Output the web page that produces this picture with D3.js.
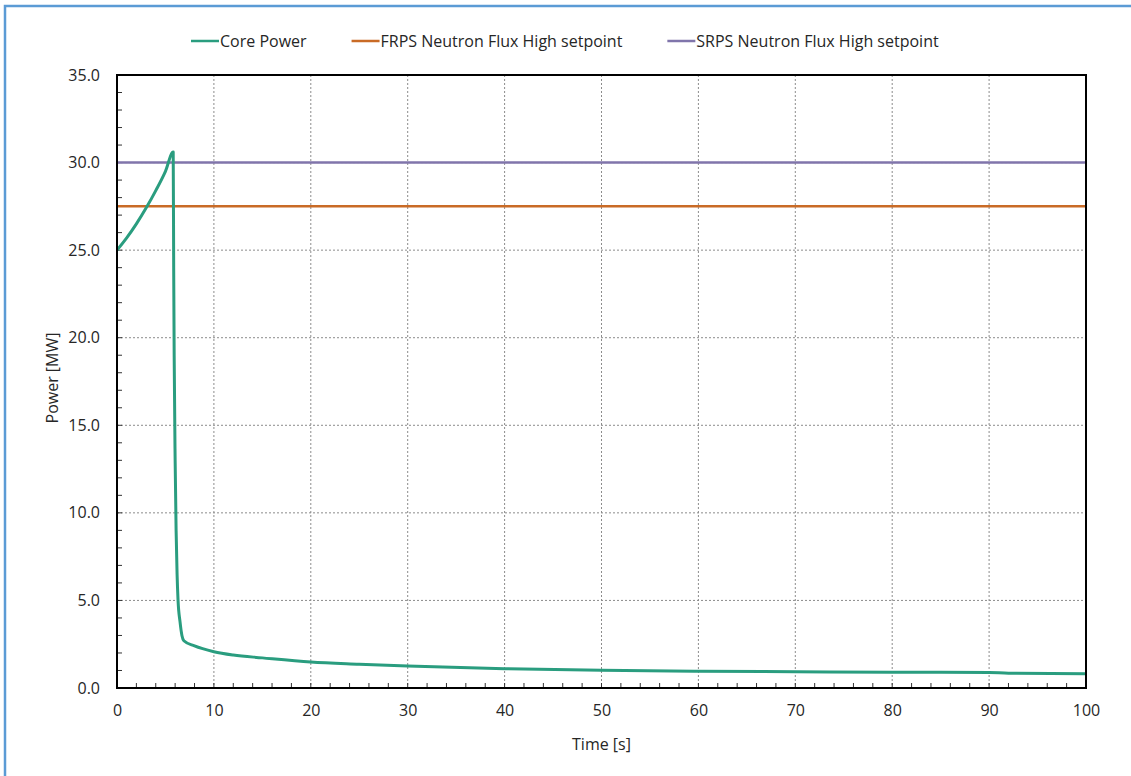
<!DOCTYPE html>
<html><head><meta charset="utf-8">
<script src="https://cdn.jsdelivr.net/npm/d3@7"></script>
<style>body{margin:0;background:#fff}svg{display:block;font-family:"Open Sans","Liberation Sans",sans-serif}</style>
</head><body><svg id="c" width="1131" height="776"></svg>
<script>
const seriesNames = ["Core Power", "FRPS Neutron Flux High setpoint", "SRPS Neutron Flux High setpoint"];
const coreTime  = [0,1,2,3,4,5,5.8,5.85,5.9,6.0,6.1,6.2,6.3,6.5,6.7,6.9,8,10,12,15,20,25,30,40,50,60,70,80,90,92,100];
const corePower = [25.0,25.7,26.5,27.4,28.4,29.5,30.6,24,19,13,9,6.5,5.0,3.8,3.0,2.7,2.4,2.07,1.88,1.72,1.48,1.36,1.26,1.10,1.01,0.96,0.93,0.90,0.89,0.84,0.82];
const frpsSetpoint = 27.5;
const srpsSetpoint = 30.0;
const xTicks = [0,10,20,30,40,50,60,70,80,90,100];
const yTicks = [0,5,10,15,20,25,30,35];
const colors = ["#2a9d7f", "#c96b26", "#8075ab"];

const svg = d3.select("#c");
const W = 1131, H = 776;
const m = {l:117, r:1086, t:75, b:688};
const FS = 16;
svg.append("rect").attr("x",5).attr("y",6).attr("width",W+10).attr("height",H+10)
  .attr("fill","none").attr("stroke","#5b9bd5").attr("stroke-width",2.5);

const x = d3.scaleLinear().domain([0,100]).range([m.l,m.r]);
const y = d3.scaleLinear().domain([0,35]).range([m.b,m.t]);

const g = svg.append("g");
g.selectAll(".vg").data(xTicks.slice(1,-1)).join("line")
  .attr("x1",d=>x(d)).attr("x2",d=>x(d)).attr("y1",m.t).attr("y2",m.b)
  .attr("stroke","#8c8c8c").attr("stroke-width",1).attr("stroke-dasharray","2,2");
g.selectAll(".hg").data(yTicks.slice(1,-1)).join("line")
  .attr("y1",d=>y(d)).attr("y2",d=>y(d)).attr("x1",m.l).attr("x2",m.r)
  .attr("stroke","#8c8c8c").attr("stroke-width",1).attr("stroke-dasharray","2,2");

const xMinor = d3.range(0,100.001,2);
const yMinor = d3.range(0,35.001,1);
svg.append("g").selectAll("line").data(xMinor).join("line")
  .attr("x1",d=>x(d)).attr("x2",d=>x(d)).attr("y1",m.b).attr("y2",m.b-5)
  .attr("stroke","#333").attr("stroke-width",1);
svg.append("g").selectAll("line").data(yMinor).join("line")
  .attr("y1",d=>y(d)).attr("y2",d=>y(d)).attr("x1",m.l).attr("x2",m.l+5)
  .attr("stroke","#333").attr("stroke-width",1);

const xa = svg.append("g").attr("transform",`translate(0,${m.b})`)
  .call(d3.axisBottom(x).tickValues(xTicks).tickSize(0).tickPadding(17).tickFormat(d3.format("d")));
const ya = svg.append("g").attr("transform",`translate(${m.l},0)`)
  .call(d3.axisLeft(y).tickValues(yTicks).tickSize(0).tickPadding(17).tickFormat(d3.format(".1f")));
[xa,ya].forEach(a=>{a.select(".domain").remove();
  a.selectAll("text").attr("font-size",FS).attr("fill","#262626").attr("font-family","'Open Sans',sans-serif");});

const line = d3.line().x(d=>x(d[0])).y(d=>y(d[1]));
svg.append("path").datum([[0,frpsSetpoint],[100,frpsSetpoint]]).attr("d",line)
  .attr("stroke",colors[1]).attr("stroke-width",2.5).attr("fill","none");
svg.append("path").datum([[0,srpsSetpoint],[100,srpsSetpoint]]).attr("d",line)
  .attr("stroke",colors[2]).attr("stroke-width",2.5).attr("fill","none");
svg.append("path").datum(coreTime.map((t,i)=>[t,corePower[i]]))
  .attr("d",d3.line().x(d=>x(d[0])).y(d=>y(d[1])).curve(d3.curveMonotoneX))
  .attr("stroke",colors[0]).attr("stroke-width",3).attr("fill","none").attr("stroke-linejoin","round");

svg.append("rect").attr("x",m.l).attr("y",m.t).attr("width",m.r-m.l).attr("height",m.b-m.t)
  .attr("fill","none").attr("stroke","#000").attr("stroke-width",2);

svg.append("text").attr("x",(m.l+m.r)/2).attr("y",750).attr("text-anchor","middle")
  .attr("font-size",FS).attr("fill","#262626").text("Time [s]");
svg.append("text").attr("transform",`translate(58,378) rotate(-90)`).attr("text-anchor","middle")
  .attr("font-size",FS).attr("fill","#262626").text("Power [MW]");

const leg = svg.append("g");
let lx = 191;
seriesNames.forEach((name,i)=>{
  const it = leg.append("g").attr("transform",`translate(${lx},41)`);
  it.append("line").attr("x1",0).attr("x2",28).attr("stroke",colors[i]).attr("stroke-width",2.5);
  const t = it.append("text").attr("x",29).attr("y",6).attr("font-size",FS).attr("fill","#262626").text(name);
  lx += 29 + t.node().getComputedTextLength() + 45;
});
</script></body></html>
